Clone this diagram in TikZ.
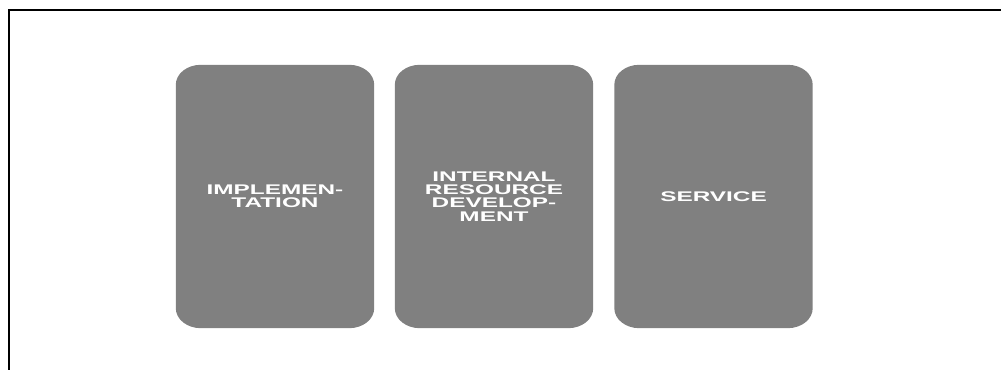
\documentclass[tikz,border=0pt]{standalone}
\usepackage{fontspec}
\newfontfamily\boxfont[FakeStretch=1.74]{Liberation Sans}
\usetikzlibrary{backgrounds}
\definecolor{boxgray}{HTML}{808080}
\tikzset{
  stagebox/.style={minimum width=198pt, minimum height=263pt, inner sep=0pt,
    align=center, text=white, font=\boxfont\bfseries\fontsize{14}{13.3}\selectfont},
  boxfill/.style={fill=boxgray, draw=none},
  frameline/.style={draw=black, line width=2pt}
}
\begin{document}
\begin{tikzpicture}[x=1pt,y=1pt]
\useasboundingbox (0,0) rectangle (1001,370);
\coordinate (tr) at (1001,360);
\coordinate (tl) at (9,360);
\coordinate (bl) at (9,0);
\draw[frameline] (tr) -- (tl) -- (bl);
\node[stagebox] (impl) at (275,173.5) {IMPLEMEN-\\TATION};
\node[stagebox] (ird) at (494,173.5) {INTERNAL\\RESOURCE\\DEVELOP-\\MENT};
\node[stagebox] (serv) at (713.5,173.5) {SERVICE};
\begin{pgfonlayer}{background}
\foreach \n in {impl,ird,serv}{
  \fill[boxfill] ([xshift=25pt]\n.north west) -- ([xshift=-25pt]\n.north east)
    arc[start angle=90, end angle=0, x radius=25pt, y radius=20pt]
    -- ([yshift=20pt]\n.south east)
    arc[start angle=0, end angle=-90, x radius=25pt, y radius=20pt]
    -- ([xshift=25pt]\n.south west)
    arc[start angle=270, end angle=180, x radius=25pt, y radius=20pt]
    -- ([yshift=-20pt]\n.north west)
    arc[start angle=180, end angle=90, x radius=25pt, y radius=20pt]
    -- cycle;
}
\end{pgfonlayer}
\end{tikzpicture}
\end{document}
